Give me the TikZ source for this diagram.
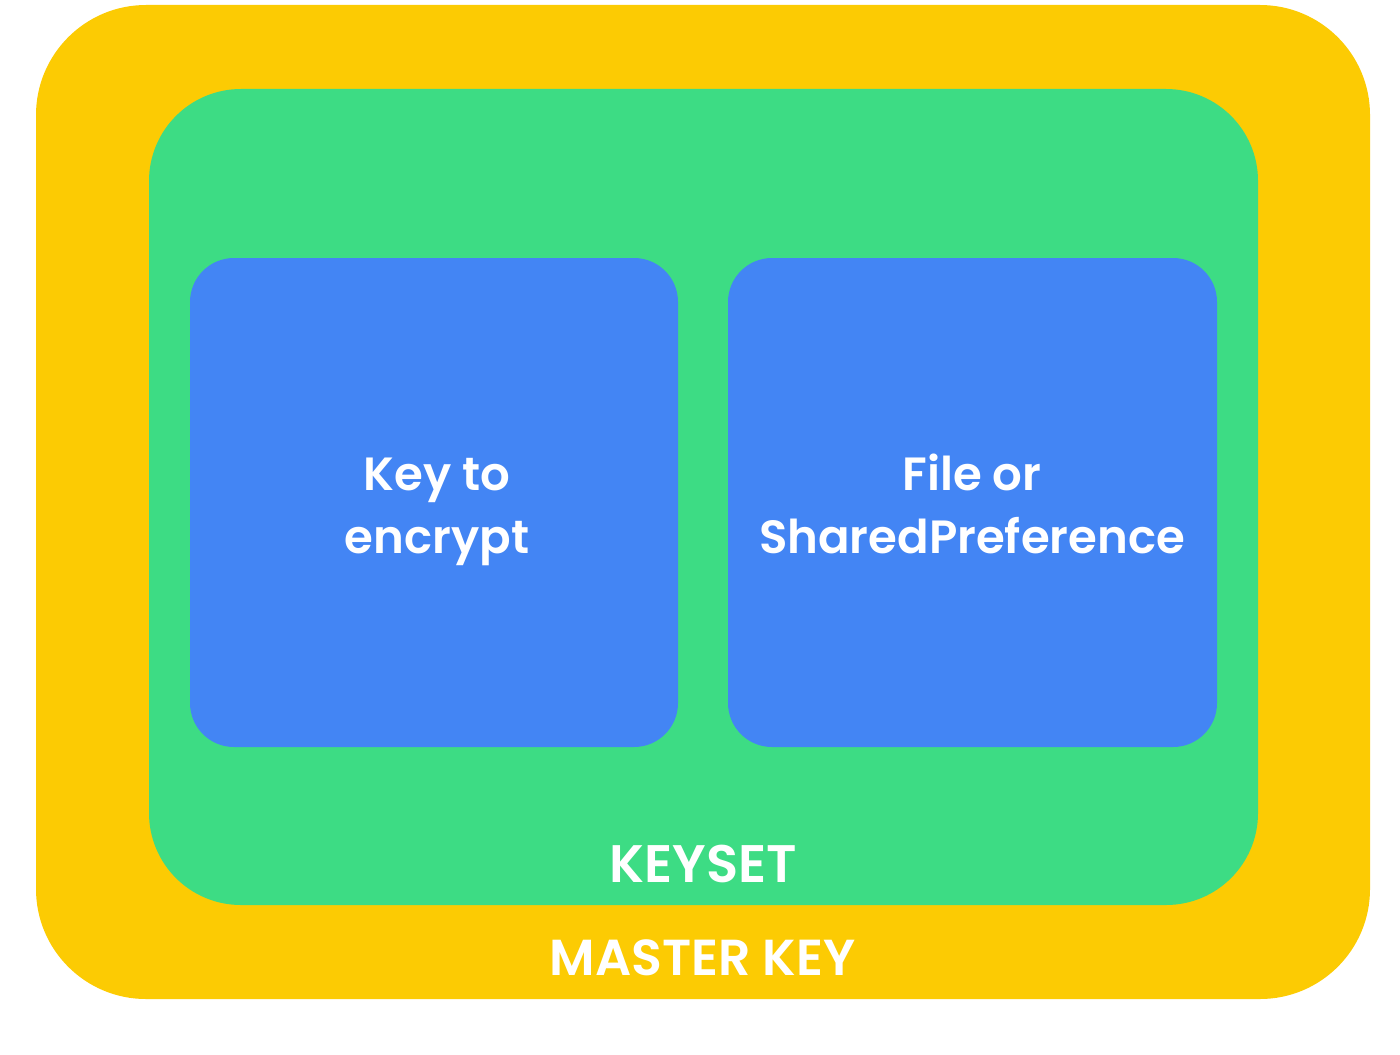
\documentclass[tikz,border=0pt]{standalone}
\usepackage{fontspec}
\setmainfont{Poppins}[BoldFont={Poppins SemiBold}]
\definecolor{masteryellow}{HTML}{FCCB03}
\definecolor{keysetgreen}{HTML}{3DDC84}
\definecolor{boxblue}{HTML}{4385F4}

\begin{document}
\begin{tikzpicture}[x=.5pt,y=-.5pt,
    lbl/.style={text=white, font=\bfseries\fontsize{23.3}{31.5}\selectfont, align=center, inner sep=0pt, anchor=base},
    biglbl/.style={text=white, font=\bfseries\fontsize{25.3}{32}\selectfont, inner sep=0pt, anchor=base}]
      \useasboundingbox (0,0) rectangle (1400,1054);
      % master key
      \node[fill=masteryellow, inner sep=0pt, minimum width=667pt, minimum height=497pt, rounded corners=55pt] (master) at (703,502) {};
      % keyset
      \node[fill=keysetgreen, inner sep=0pt, minimum width=554.5pt, minimum height=408pt, rounded corners=46pt] (keyset) at (703.5,497) {};
      % boxes
      \node[fill=boxblue, inner sep=0pt, minimum width=244pt, minimum height=244.5pt, rounded corners=22pt] (keybox) at (434,502.5) {};
      \node[fill=boxblue, inner sep=0pt, minimum width=244.5pt, minimum height=244.5pt, rounded corners=22pt] (filebox) at (972.5,502.5) {};
      % texts (base = last line)
      \node[lbl] (keytxt) at (437,553) {Key to\\encrypt};
      \node[lbl] (filetxt) at (972,553) {File or\\SharedPreference};
      \node[biglbl, font=\bfseries\fontsize{26.4}{32}\selectfont] (keysettxt) at (703.5,882) {KEYSET};
      \node[biglbl] (mastertxt) at (702.5,975) {MASTER KEY};
\end{tikzpicture}
\end{document}
